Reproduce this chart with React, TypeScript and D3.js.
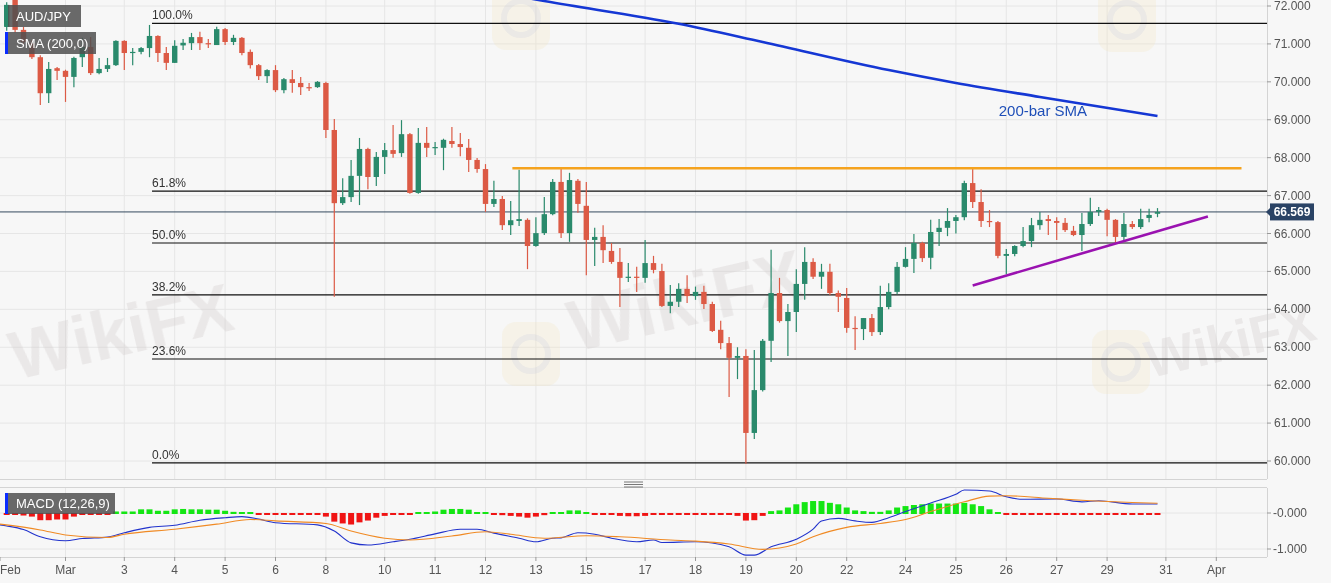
import React from 'react';
import * as d3 from 'd3';

// candles: open, high, low, close (4h bars)
const candles: [number, number, number, number][] = [
  [71.45, 72.1, 71.35, 72.03], [72.2, 72.3, 71.3, 71.37], [71.37, 71.45, 70.98, 71.05], [71.02, 71.1, 70.6, 70.65],
  [70.65, 70.7, 69.39, 69.7], [69.7, 70.52, 69.44, 70.34], [70.36, 70.39, 70.05, 70.29], [70.29, 70.32, 69.47, 70.13],
  [70.13, 70.66, 69.86, 70.63], [70.65, 71.16, 70.39, 70.92], [70.92, 71.18, 70.18, 70.23], [70.23, 70.63, 70.2, 70.34],
  [70.34, 70.63, 70.26, 70.44], [70.44, 71.1, 70.42, 71.08], [71.08, 71.1, 70.31, 70.76], [70.76, 70.89, 70.44, 70.79],
  [70.79, 70.92, 70.73, 70.89], [70.89, 71.5, 70.65, 71.21], [71.21, 71.23, 70.52, 70.76], [70.76, 70.92, 70.31, 70.5],
  [70.5, 71.1, 70.5, 70.95], [70.96, 71.13, 70.84, 71.03], [71.02, 71.29, 70.84, 71.18], [71.18, 71.32, 70.84, 71.02],
  [71.02, 71.13, 70.89, 71.0], [70.97, 71.45, 70.97, 71.39], [71.39, 71.42, 70.97, 71.05], [71.05, 71.24, 70.97, 71.16],
  [71.16, 71.18, 70.7, 70.76], [70.79, 70.85, 70.35, 70.44], [70.44, 70.47, 70.05, 70.15], [70.15, 70.33, 69.97, 70.31],
  [70.31, 70.44, 69.73, 69.78], [69.78, 70.1, 69.7, 70.07], [70.07, 70.31, 69.71, 69.97], [69.97, 70.13, 69.65, 69.86],
  [69.86, 69.97, 69.76, 69.84], [69.86, 70.02, 69.84, 70.0], [69.97, 70.0, 68.52, 68.73], [68.73, 69.02, 64.33, 66.8],
  [66.8, 67.46, 66.75, 66.96], [66.96, 67.94, 66.83, 67.52], [67.52, 68.52, 66.75, 68.23], [68.23, 68.26, 67.17, 67.49],
  [67.49, 68.15, 67.25, 68.02], [68.02, 68.39, 67.57, 68.2], [68.2, 68.86, 68.0, 68.1], [68.12, 68.99, 68.02, 68.62],
  [68.62, 68.65, 67.05, 67.07], [67.07, 68.78, 67.05, 68.39], [68.39, 68.81, 68.02, 68.26], [68.25, 68.41, 68.07, 68.28],
  [68.26, 68.5, 67.67, 68.47], [68.44, 68.81, 68.26, 68.36], [68.36, 68.65, 68.04, 68.28], [68.26, 68.49, 67.62, 67.94],
  [67.94, 67.99, 67.6, 67.7], [67.7, 67.83, 66.57, 66.78], [66.78, 67.39, 66.7, 66.91], [66.91, 66.99, 66.09, 66.22],
  [66.22, 66.86, 65.96, 66.35], [66.33, 67.68, 66.2, 66.38], [66.36, 66.4, 65.06, 65.67], [65.67, 66.43, 65.65, 66.01],
  [66.01, 66.96, 65.96, 66.51], [66.51, 67.44, 66.48, 67.36], [67.36, 67.7, 65.88, 66.01], [66.01, 67.6, 65.78, 67.41],
  [67.39, 67.44, 66.55, 66.78], [66.73, 67.36, 64.9, 65.83], [65.83, 66.15, 65.14, 65.91], [65.91, 66.22, 65.22, 65.56],
  [65.54, 65.75, 65.2, 65.25], [65.25, 65.62, 64.06, 64.83], [64.83, 65.22, 64.72, 64.86], [64.86, 65.12, 64.46, 64.83],
  [64.83, 65.83, 64.7, 65.22], [65.22, 65.41, 64.95, 65.04], [65.01, 65.2, 64.06, 64.09], [64.09, 64.64, 63.9, 64.2],
  [64.2, 64.69, 64.06, 64.54], [64.54, 64.9, 64.17, 64.35], [64.35, 64.6, 64.25, 64.46], [64.46, 64.62, 64.01, 64.14],
  [64.14, 64.2, 63.4, 63.43], [63.46, 63.7, 62.95, 63.11], [63.11, 63.27, 61.69, 62.72], [62.72, 63.0, 62.16, 62.77],
  [62.77, 62.95, 59.93, 60.74], [60.74, 62.93, 60.58, 61.87], [61.87, 63.22, 61.83, 63.17], [63.17, 65.57, 62.61, 64.43],
  [64.43, 64.83, 63.65, 63.69], [63.69, 64.14, 62.77, 63.93], [63.93, 65.06, 63.4, 64.67], [64.67, 65.64, 64.25, 65.25],
  [65.25, 65.35, 64.8, 64.86], [64.86, 65.2, 64.54, 64.99], [64.99, 65.2, 64.38, 64.43], [64.43, 64.5, 63.93, 64.33],
  [64.3, 64.56, 63.38, 63.51], [63.51, 63.82, 62.93, 63.48], [63.48, 63.77, 63.19, 63.77], [63.77, 63.88, 63.3, 63.4],
  [63.4, 64.62, 63.32, 64.06], [64.06, 64.69, 64.0, 64.46], [64.46, 65.25, 64.4, 65.12], [65.12, 65.64, 65.1, 65.33],
  [65.33, 65.99, 64.96, 65.75], [65.75, 65.78, 65.25, 65.35], [65.36, 66.36, 65.06, 66.04], [66.04, 66.38, 65.67, 66.15],
  [66.15, 66.67, 65.93, 66.33], [66.33, 66.49, 66.0, 66.43], [66.43, 67.39, 66.35, 67.33], [67.33, 67.7, 66.67, 66.83],
  [66.83, 67.17, 66.17, 66.33], [66.33, 66.62, 66.17, 66.3], [66.3, 66.33, 65.35, 65.41], [65.41, 65.59, 64.93, 65.46],
  [65.46, 65.69, 65.4, 65.67], [65.67, 66.17, 65.64, 65.8], [65.8, 66.41, 65.64, 66.22], [66.22, 66.57, 66.1, 66.36],
  [66.38, 66.49, 65.96, 66.33], [66.33, 66.43, 65.83, 66.28], [66.28, 66.41, 66.04, 66.09], [66.07, 66.2, 65.93, 65.96],
  [65.96, 66.54, 65.54, 66.25], [66.25, 66.94, 66.2, 66.57], [66.57, 66.7, 66.46, 66.62], [66.62, 66.65, 65.93, 66.36],
  [66.36, 66.38, 65.75, 65.91], [65.91, 66.54, 65.83, 66.25], [66.25, 66.33, 66.12, 66.17], [66.17, 66.65, 66.12, 66.38],
  [66.41, 66.65, 66.3, 66.49], [66.52, 66.67, 66.43, 66.569],
];

const lastPrice = 66.569;

// x axis labels and the bar index they sit on
const dayLabels = ['Feb', 'Mar', '3', '4', '5', '6', '8', '10', '11', '12', '13', '15', '17', '18', '19', '20', '22', '24', '25', '26', '27', '29', '31', 'Apr'];
const dayIndex = [-0.8, 7, 14, 20, 26, 32, 38, 45, 51, 57, 63, 69, 76, 82, 88, 94, 100, 107, 113, 119, 125, 131, 138, 144];

const priceTicks = [60, 61, 62, 63, 64, 65, 66, 67, 68, 69, 70, 71, 72];
const macdTicks = [0, -1];
const macdTickLabels = ['-0.000', '-1.000'];

// fibonacci retracement
const fibLabels = ['100.0%', '61.8%', '50.0%', '38.2%', '23.6%', '0.0%'];
const fibValues = [71.54, 67.12, 65.75, 64.38, 62.69, 59.95];
const fibStart = 17.3;

// 200-bar SMA, [bar index, value]
const sma200: [number, number][] = [
  [55, 72.49], [64, 72.13], [80, 71.53], [90, 71.05], [105, 70.31], [113, 69.97], [123, 69.6], [137, 69.1],
];
const resistance = { from: 60.2, to: 147, value: 67.72 };
const support: [number, number][] = [[115, 64.63], [143, 66.45]];

// MACD (12,26,9)
const macdHist = [
  -0.02, -0.05, -0.07, -0.1, -0.2, -0.2, -0.18, -0.18, -0.1, -0.02, -0.02, -0.02, -0.01, 0.07, 0.07, 0.07,
  0.13, 0.13, 0.09, 0.09, 0.13, 0.14, 0.13, 0.13, 0.12, 0.12, 0.09, 0.06, 0.03, 0.02, -0.01, -0.02,
  -0.02, -0.02, -0.02, -0.02, -0.02, -0.03, -0.1, -0.24, -0.29, -0.32, -0.26, -0.21, -0.13, -0.08, -0.04, -0.02,
  -0.01, 0.01, 0.05, 0.07, 0.12, 0.14, 0.14, 0.12, 0.05, 0.01, -0.01, -0.06, -0.08, -0.1, -0.13, -0.1,
  -0.06, 0.01, 0.01, 0.1, 0.1, 0.05, -0.02, -0.02, -0.02, -0.08, -0.09, -0.09, -0.08, -0.03, -0.03, -0.02,
  -0.02, -0.02, -0.02, -0.03, -0.03, -0.05, -0.05, -0.08, -0.21, -0.2, -0.08, 0.08, 0.1, 0.18, 0.27, 0.33,
  0.36, 0.36, 0.31, 0.27, 0.18, 0.1, 0.08, 0.06, 0.06, 0.1, 0.18, 0.22, 0.25, 0.27, 0.29, 0.29,
  0.29, 0.29, 0.31, 0.27, 0.22, 0.13, 0.04, -0.03, -0.04, -0.04, -0.04, -0.03, -0.03, -0.03, -0.03, -0.03,
  -0.03, -0.04, -0.04, -0.04, -0.05, -0.05, -0.05, -0.04, -0.04, -0.03,
];
const macdLine: [number, number][] = [
  [-0.8, -0.33], [0, -0.36], [2, -0.46], [4, -0.66], [7, -0.77], [9, -0.71], [12, -0.67], [14, -0.55], [17, -0.4],
  [20, -0.34], [23, -0.2], [26, -0.13], [28, -0.1], [30, -0.17], [32, -0.27], [37, -0.33], [39, -0.5], [41, -0.83],
  [43, -0.89], [46, -0.8], [48, -0.73], [51, -0.58], [54, -0.45], [56, -0.45], [58, -0.56], [61, -0.7], [63, -0.8],
  [65, -0.7], [66, -0.69], [68, -0.55], [70, -0.59], [72, -0.7], [75, -0.8], [77, -0.75], [78, -0.82], [82, -0.8],
  [86, -0.94], [88, -1.17], [89, -1.17], [91, -0.94], [94, -0.73], [96, -0.45], [97, -0.22], [99, -0.15],
  [101, -0.22], [103, -0.26], [105, -0.13], [107, 0.04], [110, 0.28], [113, 0.52], [114, 0.64], [117, 0.61],
  [119, 0.45], [121, 0.38], [125, 0.39], [128, 0.31], [130, 0.34], [134, 0.25], [137, 0.25],
];
const signalLine: [number, number][] = [
  [-0.8, -0.31], [4, -0.47], [7, -0.61], [12, -0.68], [14, -0.59], [20, -0.45], [25, -0.31], [29, -0.18],
  [32, -0.22], [38, -0.29], [41, -0.5], [45, -0.7], [48, -0.75], [53, -0.64], [57, -0.52], [60, -0.59],
  [64, -0.7], [69, -0.63], [73, -0.66], [79, -0.75], [82, -0.78], [86, -0.86], [90, -1.01], [94, -0.86],
  [96, -0.66], [100, -0.4], [104, -0.29], [107, -0.18], [110, 0.04], [114, 0.31], [117, 0.47], [119, 0.48],
  [124, 0.41], [129, 0.34], [134, 0.29], [137, 0.27],
];

const W = 1331;
const H = 583;
const PLOT_R = 1267;
const MAIN_B = 479;
const MACD_T = 488;
const MACD_B = 557;
const FONT = '"Liberation Sans", Arial, sans-serif';
const UP = '#2a8a6c';
const DOWN = '#dc5a45';
const GRID = '#e6e6e6';

export default function App() {
  const x = d3.scaleLinear().domain([0, 137]).range([6.7, 1157.5]);
  const y = d3.scaleLinear().domain([60, 72]).range([461, 6]);
  const ym = d3.scaleLinear().domain([-1, 0]).range([549, 513]);

  const smaPath = d3.line<[number, number]>()
    .x((d) => x(d[0]))
    .y((d) => y(d[1]))
    .curve(d3.curveMonotoneX)(sma200)!;
  const macdGen = d3.line<[number, number]>()
    .x((d) => x(d[0]))
    .y((d) => ym(d[1]))
    .curve(d3.curveMonotoneX);

  const dayX = dayIndex.map((i) => x(i));

  // faint broker watermark
  const watermarks = [
    { tx: 16, ty: 380, size: 68 },
    { tx: 575, ty: 352, size: 72 },
    { tx: 1150, ty: 378, size: 52 },
  ];
  const logos = [
    { lx: 492, ly: -14 },
    { lx: 1098, ly: -12 },
    { lx: 502, ly: 322 },
    { lx: 1092, ly: 330 },
  ];

  return (
    <svg width={W} height={H} style={{ position: 'absolute', left: 0, top: 0, fontFamily: FONT }}>
      <defs>
        <clipPath id="mainClip"><rect x={0} y={0} width={PLOT_R} height={MAIN_B} /></clipPath>
        <clipPath id="macdClip"><rect x={0} y={MACD_T} width={PLOT_R} height={MACD_B - MACD_T} /></clipPath>
      </defs>
      <rect x={0} y={0} width={W} height={H} fill="#f7f7f7" />

      {/* grid */}
      <g stroke={GRID} strokeWidth={1}>
        {priceTicks.map((p) => (
          <line key={'h' + p} x1={0} x2={PLOT_R} y1={y(p)} y2={y(p)} />
        ))}
        {macdTicks.map((v) => (
          <line key={'m' + v} x1={0} x2={PLOT_R} y1={ym(v)} y2={ym(v)} />
        ))}
        {dayX.slice(1).map((dx, k) => (
          <g key={'v' + k}>
            <line x1={dx} x2={dx} y1={0} y2={MAIN_B} />
            <line x1={dx} x2={dx} y1={MACD_T} y2={MACD_B} />
          </g>
        ))}
      </g>

      {/* watermark */}
      <g opacity={0.36}>
        {logos.map((l, k) => (
          <g key={'lg' + k} transform={`translate(${l.lx},${l.ly})`}>
            <rect width={58} height={64} rx={14} fill="#f2e6bd" opacity={0.7} />
            <circle cx={29} cy={32} r={17} fill="none" stroke="#d6cfc6" strokeWidth={6} />
          </g>
        ))}
        {watermarks.map((w, k) => (
          <text key={'wm' + k} x={w.tx} y={w.ty} transform={`rotate(-13 ${w.tx} ${w.ty})`}
            fontSize={w.size} fontWeight="bold" fill="#d3cdcd">WikiFX</text>
        ))}
      </g>

      {/* fibonacci */}
      <g>
        {fibValues.map((v, k) => (
          <g key={'fib' + k}>
            <line x1={x(fibStart)} x2={PLOT_R} y1={y(v)} y2={y(v)} stroke="#111" strokeWidth={1.2} />
            <text x={x(fibStart)} y={y(v) - 4} fontSize={12} fill="#333">{fibLabels[k]}</text>
          </g>
        ))}
      </g>

      {/* last price line */}
      <line x1={0} x2={PLOT_R} y1={y(lastPrice)} y2={y(lastPrice)} stroke="#34495e" strokeWidth={1} />

      {/* candles */}
      <g clipPath="url(#mainClip)">
        {candles.map(([o, h, l, c], i) => {
          const col = c >= o ? UP : DOWN;
          const top = y(Math.max(o, c));
          const bh = Math.max(1.2, Math.abs(y(o) - y(c)));
          return (
            <g key={'c' + i}>
              <line x1={x(i)} x2={x(i)} y1={y(h)} y2={y(l)} stroke={col} strokeWidth={1.2} />
              <rect x={x(i) - 2.7} y={top} width={5.4} height={bh} fill={col} />
            </g>
          );
        })}
        <path d={smaPath} fill="none" stroke="#1537d4" strokeWidth={2.6} />
        <line x1={x(resistance.from)} x2={x(resistance.to)} y1={y(resistance.value)} y2={y(resistance.value)}
          stroke="#f5a31f" strokeWidth={2.6} />
        <line x1={x(support[0][0])} x2={x(support[1][0])} y1={y(support[0][1])} y2={y(support[1][1])}
          stroke="#9a12b0" strokeWidth={2.6} />
      </g>
      <text x={x(118.1)} y={y(69.09)} fontSize={15} fill="#1f4fb8">200-bar SMA</text>

      {/* panel borders */}
      <g stroke="#d4d4d4" strokeWidth={1} fill="none">
        <line x1={0} x2={PLOT_R} y1={MAIN_B + 0.5} y2={MAIN_B + 0.5} />
        <line x1={0} x2={PLOT_R} y1={MACD_T - 0.5} y2={MACD_T - 0.5} />
        <line x1={0} x2={PLOT_R} y1={MACD_B + 0.5} y2={MACD_B + 0.5} />
        <line x1={PLOT_R + 0.5} x2={PLOT_R + 0.5} y1={0} y2={MAIN_B} />
        <line x1={PLOT_R + 0.5} x2={PLOT_R + 0.5} y1={MACD_T} y2={MACD_B} />
      </g>
      <g stroke="#777" strokeWidth={1}>
        {[482, 484.5, 487].map((hy) => (
          <line key={'hd' + hy} x1={624} x2={643} y1={hy} y2={hy} />
        ))}
      </g>

      {/* MACD */}
      <g clipPath="url(#macdClip)">
        {macdHist.map((v, i) => {
          const hgt = Math.max(2, Math.abs(ym(v) - ym(0)));
          return (
            <rect key={'mh' + i} x={x(i) - 3} width={6}
              y={v >= 0 ? ym(0) - hgt + 1 : ym(0)} height={hgt}
              fill={v >= 0 ? '#14e614' : '#f01414'} />
          );
        })}
        <path d={macdGen(macdLine)!} fill="none" stroke="#2233cc" strokeWidth={1.1} />
        <path d={macdGen(signalLine)!} fill="none" stroke="#f08a24" strokeWidth={1.1} />
      </g>

      {/* right axes */}
      <g fontSize={12} fill="#555">
        {priceTicks.map((p) => (
          <g key={'pt' + p}>
            <line x1={PLOT_R} x2={PLOT_R + 4} y1={y(p)} y2={y(p)} stroke="#999" />
            <text x={PLOT_R + 7} y={y(p)} dominantBaseline="central">{p.toFixed(3)}</text>
          </g>
        ))}
        {macdTicks.map((v, k) => (
          <g key={'mt' + v}>
            <line x1={PLOT_R} x2={PLOT_R + 4} y1={ym(v)} y2={ym(v)} stroke="#999" />
            <text x={PLOT_R + 6} y={ym(v)} dominantBaseline="central">{macdTickLabels[k]}</text>
          </g>
        ))}
      </g>
      <g>
        <path d={`M${PLOT_R - 1},${y(lastPrice)} L${PLOT_R + 4},${y(lastPrice) - 5} L${PLOT_R + 4},${y(lastPrice) + 5} Z`} fill="#2a4365" />
        <rect x={PLOT_R + 3} y={y(lastPrice) - 8.5} width={44} height={17} fill="#2a4365" />
        <text x={PLOT_R + 25} y={y(lastPrice)} dominantBaseline="central" textAnchor="middle"
          fontSize={12} fontWeight="bold" fill="#fff">{lastPrice.toFixed(3)}</text>
      </g>

      {/* bottom axis */}
      <g fontSize={12} fill="#555">
        {dayLabels.map((lab, k) => {
          const dx = dayX[k];
          const atEdge = dx < 10;
          return (
            <g key={'dl' + k}>
              <line x1={dx} x2={dx} y1={MACD_B} y2={MACD_B + 4} stroke="#999" />
              <text x={atEdge ? 0 : dx} y={570} dominantBaseline="central"
                textAnchor={atEdge ? 'start' : 'middle'}>{lab}</text>
            </g>
          );
        })}
      </g>

      {/* legend boxes */}
      <g fontSize={13} fill="#fff">
        <rect x={5} y={5} width={76} height={22} fill="#505050" opacity={0.85} />
        <rect x={5} y={5} width={3} height={22} fill={UP} />
        <text x={16} y={16} dominantBaseline="central">AUD/JPY</text>
        <rect x={5} y={32} width={91} height={22} fill="#505050" opacity={0.85} />
        <rect x={5} y={32} width={3} height={22} fill="#0a2cff" />
        <text x={16} y={43} dominantBaseline="central">SMA (200,0)</text>
        <rect x={5} y={493} width={110} height={21} fill="#505050" opacity={0.85} />
        <rect x={5} y={493} width={3} height={21} fill="#0a2cff" />
        <text x={16} y={503.5} dominantBaseline="central">MACD (12,26,9)</text>
      </g>
    </svg>
  );
}
